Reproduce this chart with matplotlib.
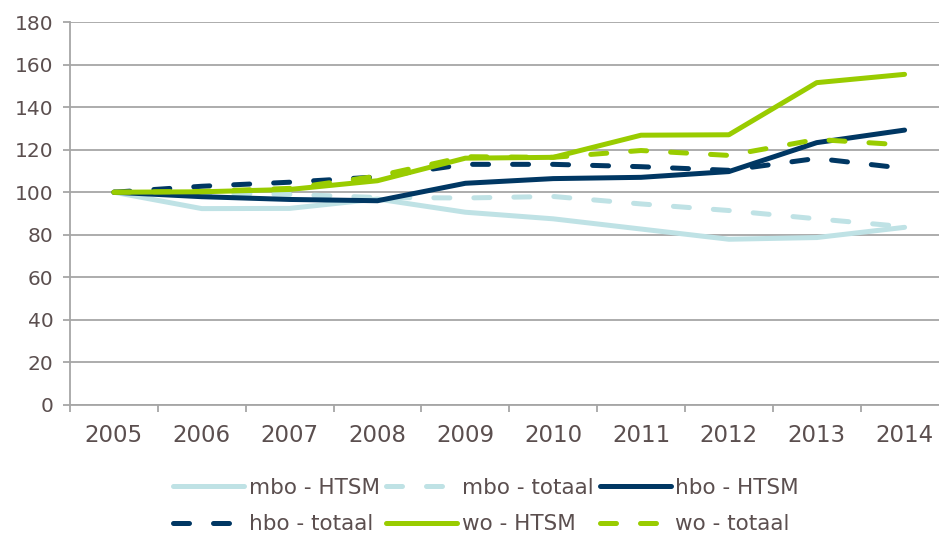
import matplotlib
matplotlib.use("Agg")
import matplotlib.pyplot as plt
from matplotlib.ticker import FixedLocator, MultipleLocator

years = ["2005", "2006", "2007", "2008", "2009", "2010", "2011", "2012", "2013", "2014"]

mbo_htsm = [100, 92.3, 92.4, 96.8, 90.6, 87.5, 82.7, 77.9, 78.7, 83.5]
mbo_totaal = [100, 99.5, 99.0, 97.5, 97.3, 98.0, 94.5, 91.4, 87.5, 83.8]
hbo_htsm = [100, 97.9, 96.6, 96.0, 104.2, 106.4, 107.0, 109.7, 123.3, 129.2]
hbo_totaal = [100, 102.8, 104.7, 107.2, 113.1, 113.1, 112.0, 110.3, 115.9, 111.2]
wo_htsm = [100, 100.2, 101.3, 105.4, 116.0, 116.4, 126.8, 127.0, 151.5, 155.4]
wo_totaal = [100, 100.4, 101.8, 107.6, 116.7, 116.4, 119.6, 117.3, 124.8, 122.2]

LIGHT = "#bfe2e5"
NAVY = "#003763"
GREEN = "#99cc00"
TEXT = "#5b4f4f"
GRID = "#a6a6a6"

series = [
    ("mbo - HTSM", mbo_htsm, LIGHT, "-"),
    ("mbo - totaal", mbo_totaal, LIGHT, "--"),
    ("hbo - HTSM", hbo_htsm, NAVY, "-"),
    ("hbo - totaal", hbo_totaal, NAVY, "--"),
    ("wo - HTSM", wo_htsm, GREEN, "-"),
    ("wo - totaal", wo_totaal, GREEN, "--"),
]

W, H = 939, 536
fig = plt.figure(figsize=(W / 100, H / 100), dpi=100)
ax = fig.add_axes([70 / W, 1 - 405 / H, (948.5 - 70) / W, (405 - 22) / H])

x = list(range(len(years)))
handles = []
for label, vals, color, ls in series:
    kw = dict(color=color, lw=3.6, solid_capstyle="round", dash_capstyle="round",
              solid_joinstyle="round", label=label, clip_on=False)
    if ls == "--":
        kw["linestyle"] = (0, (3.2, 4.8))
    (ln,) = ax.plot(x, vals, **kw)
    handles.append(ln)

ax.set_xlim(-0.5, len(years) - 0.5)
ax.set_ylim(0, 180)
ax.yaxis.set_major_locator(MultipleLocator(20))
ax.grid(axis="y", color=GRID, lw=1.3)
ax.set_axisbelow(True)

ax.xaxis.set_major_locator(FixedLocator(x))
ax.set_xticklabels(years)
ax.xaxis.set_minor_locator(FixedLocator([i - 0.5 for i in range(len(years) + 1)]))
ax.tick_params(axis="x", which="major", length=0, pad=14, labelsize=16.5, labelcolor=TEXT)
ax.tick_params(axis="x", which="minor", length=5, width=1.3, color=GRID)
ax.tick_params(axis="y", length=5, width=1.3, color=GRID, pad=7, labelsize=14.5, labelcolor=TEXT)

for s in ["top", "right"]:
    ax.spines[s].set_visible(False)
for s in ["left", "bottom"]:
    ax.spines[s].set_color(GRID)
    ax.spines[s].set_linewidth(1.3)

# legend laid out row by row in three columns
order = [0, 3, 1, 4, 2, 5]
leg = fig.legend([handles[i] for i in order], [series[i][0] for i in order],
                 loc="center", bbox_to_anchor=(486 / W, 1 - 506 / H), ncol=3,
                 frameon=False, fontsize=15.5, handlelength=3.3, handletextpad=0.2,
                 columnspacing=0.3, labelspacing=0.75, labelcolor=TEXT)

fig.savefig("out.png", dpi=100)
